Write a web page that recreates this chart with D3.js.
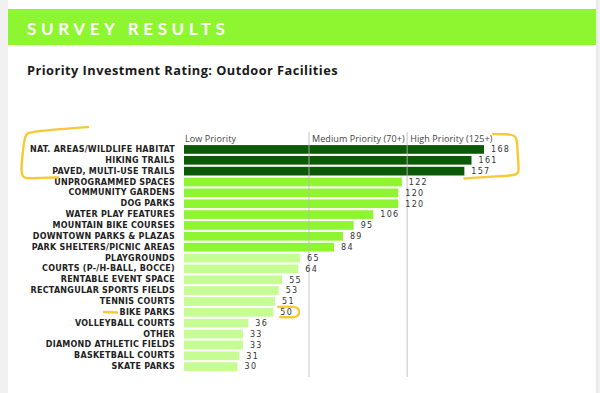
<!DOCTYPE html>
<html>
<head>
<meta charset="utf-8">
<script src="https://cdn.jsdelivr.net/npm/d3@7"></script>
<style>
  body { margin: 0; background: #f1f1f1; }
  svg { display: block; }
</style>
</head>
<body>
<div id="chart"></div>
<script>
// data
var categories = ["NAT. AREAS/WILDLIFE HABITAT", "HIKING TRAILS", "PAVED, MULTI-USE TRAILS",
  "UNPROGRAMMED SPACES", "COMMUNITY GARDENS", "DOG PARKS", "WATER PLAY FEATURES",
  "MOUNTAIN BIKE COURSES", "DOWNTOWN PARKS & PLAZAS", "PARK SHELTERS/PICNIC AREAS",
  "PLAYGROUNDS", "COURTS (P-/H-BALL, BOCCE)", "RENTABLE EVENT SPACE",
  "RECTANGULAR SPORTS FIELDS", "TENNIS COURTS", "BIKE PARKS", "VOLLEYBALL COURTS",
  "OTHER", "DIAMOND ATHLETIC FIELDS", "BASKETBALL COURTS", "SKATE PARKS"];
var values = [168, 161, 157, 122, 120, 120, 106, 95, 89, 84, 65, 64, 55, 53, 51, 50, 36, 33, 33, 31, 30];
var thresholds = [0, 70, 125];
var thresholdLabels = ["Low Priority", "Medium Priority (70+)", "High Priority (125+)"];
var tierColors = ["#c6fd93", "#8ef531", "#0b5a05"];

var W = 600, H = 393;

var svg = d3.select("#chart").append("svg")
  .attr("width", W)
  .attr("height", H);

// white card + header band
svg.append("rect").attr("x", 8).attr("y", 0).attr("width", 588).attr("height", H).attr("fill", "#fff");
svg.append("line").attr("x1", 597).attr("x2", 597).attr("y1", 0).attr("y2", H)
  .attr("stroke", "#dedede").attr("stroke-width", 1);
svg.append("rect").attr("x", 8).attr("y", 9).attr("width", 588).attr("height", 36).attr("fill", "#8ef531");

svg.append("text")
  .attr("x", 27).attr("y", 34.5)
  .attr("fill", "#fff")
  .style("font-family", "Lato, 'Open Sans', sans-serif")
  .style("font-weight", "bold")
  .style("font-size", "17px")
  .style("letter-spacing", "4.6px")
  .text("SURVEY RESULTS");

svg.append("text")
  .attr("x", 27).attr("y", 75)
  .attr("fill", "#1a1a1a")
  .style("font-family", "'Open Sans', sans-serif")
  .style("font-weight", "bold")
  .style("font-size", "12.8px")
  .style("letter-spacing", "0.45px")
  .text("Priority Investment Rating: Outdoor Facilities");

// scales
var x = d3.scaleLinear().domain([0, 168]).range([184, 484]);
var y = d3.scaleBand().domain(categories).range([144, 144 + 10.86 * categories.length])
  .paddingInner(0.2).paddingOuter(0.1);

function tier(v) {
  return v >= thresholds[2] ? 2 : (v >= thresholds[1] ? 1 : 0);
}

// bars
svg.selectAll("rect.bar")
  .data(values)
  .enter().append("rect")
  .attr("class", "bar")
  .attr("x", x(0))
  .attr("y", function(d, i) { return y(categories[i]); })
  .attr("width", function(d) { return x(d) - x(0); })
  .attr("height", y.bandwidth())
  .attr("fill", function(d) { return tierColors[tier(d)]; });

// threshold lines (drawn on top, faint)
svg.selectAll("line.grid")
  .data(thresholds.slice(1))
  .enter().append("line")
  .attr("class", "grid")
  .attr("x1", function(d) { return x(d); })
  .attr("x2", function(d) { return x(d); })
  .attr("y1", 132)
  .attr("y2", 377)
  .attr("stroke", "#b9b9b9")
  .attr("stroke-opacity", 0.55)
  .attr("stroke-width", 1.5);

svg.selectAll("text.tier")
  .data(thresholds)
  .enter().append("text")
  .attr("class", "tier")
  .attr("x", function(d, i) { return x(d) + (i ? 3 : 1); })
  .attr("y", 141.5)
  .attr("fill", "#444")
  .style("font-family", "'Open Sans', sans-serif")
  .style("font-size", "9px")
  .style("letter-spacing", "0.1px")
  .text(function(d, i) { return thresholdLabels[i]; });

// category labels
var yAxis = svg.append("g")
  .attr("transform", "translate(" + (x(0) - 9) + ",0)")
  .call(d3.axisLeft(y).tickSize(0).tickPadding(0));
yAxis.select(".domain").remove();
yAxis.selectAll("text")
  .attr("fill", "#222")
  .style("font-family", "'DejaVu Sans', sans-serif")
  .style("font-weight", "bold")
  .style("font-size", "8px")
  .style("letter-spacing", "0.25px");

// value labels
svg.selectAll("text.val")
  .data(values)
  .enter().append("text")
  .attr("class", "val")
  .attr("x", function(d) { return x(d) + 7; })
  .attr("y", function(d, i) { return y(categories[i]) + y.bandwidth() / 2; })
  .attr("dy", "0.35em")
  .attr("fill", "#333")
  .style("font-family", "'DejaVu Sans', sans-serif")
  .style("font-size", "8px")
  .style("letter-spacing", "1.3px")
  .text(function(d) { return d; });

// yellow hand-drawn highlights
var hl = svg.append("g")
  .attr("fill", "none")
  .attr("stroke", "#f6c31c")
  .attr("stroke-width", 2.4)
  .attr("stroke-linecap", "round")
  .attr("stroke-linejoin", "round")
  .attr("opacity", 0.9);

var top3 = y(categories[0]), bot3 = y(categories[2]) + y.bandwidth();
hl.append("path").attr("d", d3.line().curve(d3.curveBasis)([
  [88, 127], [60, 129], [30, 132], [25, 134], [23, 150], [21, 170], [22, bot3 + 4], [40, bot3 + 2], [58, bot3 + 2]
]));
hl.append("path").attr("d", d3.line().curve(d3.curveBasis)([
  [x(125) + 86, top3 - 11], [x(125) + 100, top3 - 11], [x(125) + 110, top3 - 10], [x(125) + 110, top3 + 5],
  [x(125) + 112, bot3 - 4], [x(125) + 110, bot3], [x(125) + 85, bot3 + 1], [x(157), bot3 + 3]
]));
var bp = y("BIKE PARKS"), bpEnd = x(50);
hl.append("path").attr("d", d3.line()([[104, bp + 4], [117, bp + 4.5]]));
hl.append("path").attr("d", d3.line().curve(d3.curveBasis)([
  [bpEnd + 5, bp - 1], [bpEnd + 15, bp - 1.5], [bpEnd + 25, bp - 1], [bpEnd + 26, bp + 4],
  [bpEnd + 25, bp + 9], [bpEnd + 15, bp + 9.5], [bpEnd + 7, bp + 9]
]));
</script>
</body>
</html>
